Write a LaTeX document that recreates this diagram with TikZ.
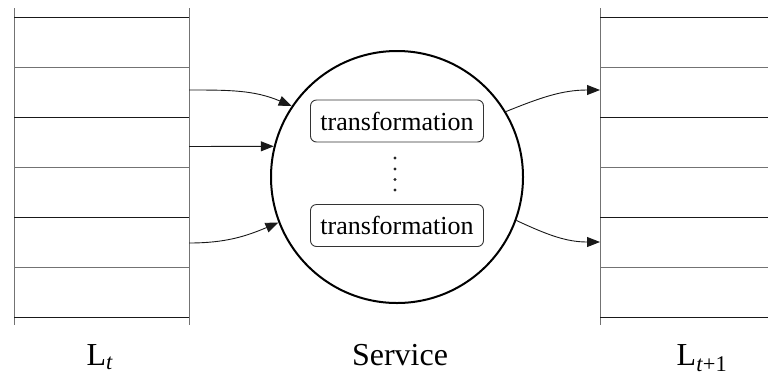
\documentclass[tikz,border=0pt]{standalone}
\usepackage{fontspec}
\setmainfont{Liberation Serif}
\usetikzlibrary{shapes.geometric, arrows.meta}
\tikzstyle{slot} = [draw=black!55, line width=1pt]
\tikzstyle{slotdark} = [draw=black!90, line width=1pt]
\tikzstyle{service} = [circle, draw=black, line width=2pt, minimum size=252pt, inner sep=0pt]
\tikzstyle{transform} = [rectangle, rounded corners=6pt, draw=black!80, line width=0.9pt, minimum width=173pt, minimum height=42pt, inner sep=0pt, font=\fontsize{26}{30}\selectfont]
\tikzstyle{listname} = [anchor=base, inner sep=0pt, font=\fontsize{32}{38}\selectfont]
\tikzstyle{flow} = [line width=0.9pt, draw=black!90, -{Triangle[length=13pt,width=10pt]}]
\begin{document}
\begin{tikzpicture}[x=1pt, y=1pt]
\useasboundingbox (0,0) rectangle (768,-376);
% left queue L_t
\draw[slot] (14,-8) -- (14,-325);
\draw[slot] (189,-8) -- (189,-325);
\foreach \y in {17,117,217,317} \draw[slotdark] (14,-\y) -- (189,-\y);
\foreach \y in {67,167,267} \draw[slot] (14,-\y) -- (189,-\y);
% right queue L_t+1
\draw[slot] (600,-8) -- (600,-325);
\foreach \y in {17,117,217,317} \draw[slotdark] (600,-\y) -- (768,-\y);
\foreach \y in {67,167,267} \draw[slot] (600,-\y) -- (768,-\y);
% service with its transformations
\node (srv) [service] at (397,-177) {};
\node (tf1) [transform] at (397,-121) {transformation};
\node (tf2) [transform] at (397,-225.5) {transformation};
\foreach \y in {158,169,179.5,190} \fill[black!85] (395,-\y) circle (1.6pt);
% names
\node (nlt) [listname] at (100,-365) {L\textsubscript{\textit{t}}};
\node (nsrv) [listname] at (400,-365) {Service};
\node (nlt1) [listname] at (702,-365) {L\textsubscript{\textit{t}+1}};
% connectors
\coordinate (ina) at (189,-90);
\coordinate (inb) at (189,-146.5);
\coordinate (inc) at (189,-243);
\coordinate (outa) at (600,-90);
\coordinate (outb) at (600,-242);
\draw[flow] (ina) to[out=0, in=157] (srv.146);
\draw[flow] (inb) -- (srv.166);
\draw[flow] (inc) to[out=0, in=203] (srv.201);
\draw[flow] (srv.31) to[out=22, in=180] (outa);
\draw[flow] (srv.340) to[out=-25, in=180] (outb);
\end{tikzpicture}
\end{document}
